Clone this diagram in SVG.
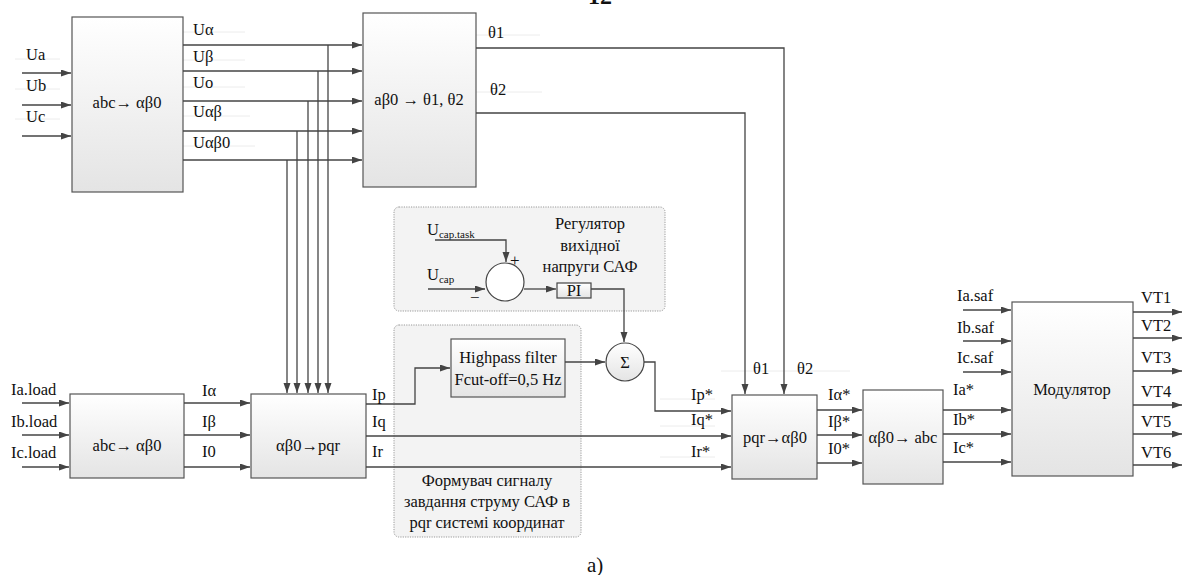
<svg xmlns="http://www.w3.org/2000/svg" width="1184" height="575" viewBox="0 0 1184 575" font-family="'Liberation Serif', 'DejaVu Serif', serif" font-size="16.5">
<defs>
<linearGradient id="g" x1="0" y1="0" x2="0" y2="1">
<stop offset="0" stop-color="#ffffff"/>
<stop offset="1" stop-color="#e4e4e4"/>
</linearGradient>
<marker id="a" markerUnits="userSpaceOnUse" markerWidth="11" markerHeight="8" refX="10" refY="3.5" orient="auto">
<path d="M0,0 L10,3.5 L0,7 z" fill="#444"/>
</marker>
</defs>
<style>
text{font-family:Liberation Serif,serif;font-size:16.5px;fill:#111}
.blk{fill:url(#g);stroke:#555;stroke-width:1.2}
.box{fill:#f3f3f3;stroke:#999;stroke-width:1;stroke-dasharray:1.2 1.2}
.c{fill:none;stroke:#444;stroke-width:1.3}
.ar{marker-end:url(#a)}
.f{stroke:#ececec;stroke-width:1}
.m{text-anchor:middle}
.sb{font-size:11px}
</style>
<rect width="1184" height="575" fill="#fff"/>
<text x="600" y="4" text-anchor="middle" style="font-size:24px;font-weight:bold">12</text>

<g id="reg">
<rect class="box" x="394" y="207" width="271" height="104" rx="5"/>
<text class="m" x="590" y="229">Регулятор</text>
<text class="m" x="590" y="251">вихідної</text>
<text class="m" x="590" y="272">напруги САФ</text>
<text x="427" y="235">U<tspan class="sb" dy="3">cap.task</tspan></text>
<text x="427" y="280">U<tspan class="sb" dy="3">cap</tspan></text>
<circle cx="505" cy="282" r="19" fill="#fff" stroke="#444" stroke-width="1.2"/>
<text x="510" y="266" style="font-size:17px">+</text>
<text x="470" y="303" style="font-size:17px">−</text>
<rect x="557" y="283" width="34" height="15" fill="url(#g)" stroke="#444" stroke-width="1.2"/>
<text class="m" x="574" y="296">PI</text>
</g>

<g id="form">
<rect class="box" x="394" y="325" width="187" height="212" rx="5"/>
<text class="m" x="487" y="486">Формувач сигналу</text>
<text class="m" x="487" y="507">завдання струму САФ в</text>
<text class="m" x="487" y="528">pqr системі координат</text>
</g>

<g id="faint">
<line class="f" x1="15" y1="59" x2="60" y2="59"/>
<line class="f" x1="15" y1="89" x2="60" y2="89"/>
<line class="f" x1="15" y1="119" x2="60" y2="119"/>
<line class="f" x1="165" y1="32" x2="245" y2="32"/>
<line class="f" x1="165" y1="60" x2="245" y2="60"/>
<line class="f" x1="165" y1="87" x2="245" y2="87"/>
<line class="f" x1="170" y1="116" x2="250" y2="116"/>
<line class="f" x1="172" y1="146" x2="255" y2="146"/>
<line class="f" x1="457" y1="35" x2="540" y2="35"/>
<line class="f" x1="460" y1="92" x2="542" y2="92"/>
<line class="f" x1="721" y1="371" x2="850" y2="371"/>
<line class="f" x1="660" y1="399" x2="715" y2="399"/>
<line class="f" x1="660" y1="426" x2="715" y2="426"/>
<line class="f" x1="660" y1="457" x2="715" y2="457"/>
</g>

<g id="b1"><rect class="blk" x="72" y="17" width="111" height="175"/><text class="m" x="127" y="108">abc→ αβ0</text></g>
<g id="b2"><rect class="blk" x="363" y="13" width="113" height="174"/><text class="m" x="419" y="105">aβ0 → θ1, θ2</text></g>
<g id="b3"><rect class="blk" x="70" y="394" width="114" height="84"/><text class="m" x="127" y="451">abc→ αβ0</text></g>
<g id="b4"><rect class="blk" x="251" y="394" width="115" height="84"/><text class="m" x="308" y="451">αβ0→pqr</text></g>
<g id="hp"><rect class="blk" x="451" y="339" width="114" height="58"/><text class="m" x="508" y="363">Highpass filter</text><text class="m" x="508" y="385">Fcut-off=0,5 Hz</text></g>
<g id="sum"><circle cx="625" cy="362" r="19" fill="url(#g)" stroke="#444" stroke-width="1.2"/><text class="m" x="625" y="368">Σ</text></g>
<g id="b5"><rect class="blk" x="732" y="395" width="85" height="84"/><text class="m" x="775" y="443">pqr→αβ0</text></g>
<g id="b6"><rect class="blk" x="863" y="390" width="80" height="94"/><text class="m" x="903" y="443">αβ0→ abc</text></g>
<g id="b7"><rect class="blk" x="1012" y="302" width="121" height="174"/><text class="m" x="1072" y="395">Модулятор</text></g>

<g id="connectors">
<path class="c ar" d="M22,73 H71"/>
<path class="c ar" d="M22,105 H71"/>
<path class="c ar" d="M22,136 H71"/>
<path class="c ar" d="M183,45 H362"/>
<path class="c ar" d="M183,71 H362"/>
<path class="c ar" d="M183,101 H362"/>
<path class="c ar" d="M183,131 H362"/>
<path class="c ar" d="M183,160 H362"/>
<path class="c ar" d="M328,45 V393"/>
<path class="c ar" d="M318,71 V393"/>
<path class="c ar" d="M308,101 V393"/>
<path class="c ar" d="M297,131 V393"/>
<path class="c ar" d="M287,160 V393"/>
<path class="c ar" d="M476,48 H784 V394"/>
<path class="c ar" d="M476,113 H745 V394"/>
<path class="c ar" d="M22,403 H69"/>
<path class="c ar" d="M22,435 H69"/>
<path class="c ar" d="M22,467 H69"/>
<path class="c ar" d="M184,403 H250"/>
<path class="c ar" d="M184,435 H250"/>
<path class="c ar" d="M184,467 H250"/>
<path class="c ar" d="M366,404 H415 V368 H450"/>
<path class="c ar" d="M366,436 H731"/>
<path class="c ar" d="M366,467 H731"/>
<path class="c ar" d="M565,362 H605"/>
<path class="c ar" d="M644,362 H655 V411 H731"/>
<path class="c ar" d="M435,240 H506 V262"/>
<path class="c ar" d="M428,289 H485"/>
<path class="c ar" d="M524,289 H556"/>
<path class="c ar" d="M591,289 H624 V342"/>
<path class="c ar" d="M817,410 H862"/>
<path class="c ar" d="M817,435 H862"/>
<path class="c ar" d="M817,463 H862"/>
<path class="c ar" d="M943,410 H1011"/>
<path class="c ar" d="M943,434 H1011"/>
<path class="c ar" d="M943,462 H1011"/>
<path class="c ar" d="M963,310 H1011"/>
<path class="c ar" d="M963,341 H1011"/>
<path class="c ar" d="M963,372 H1011"/>
<path class="c ar" d="M1133,312 H1182"/>
<path class="c ar" d="M1133,338 H1182"/>
<path class="c ar" d="M1133,371 H1182"/>
<path class="c ar" d="M1133,405 H1182"/>
<path class="c ar" d="M1133,434 H1182"/>
<path class="c ar" d="M1133,465 H1182"/>
</g>

<g id="labels">
<text x="26" y="60">Ua</text>
<text x="26" y="91">Ub</text>
<text x="26" y="122">Uc</text>
<text x="193" y="35">Uα</text>
<text x="193" y="62">Uβ</text>
<text x="193" y="88">Uo</text>
<text x="193" y="117">Uαβ</text>
<text x="193" y="148">Uαβ0</text>
<text x="488" y="38">θ1</text>
<text x="490" y="95">θ2</text>
<text x="11" y="395">Ia.load</text>
<text x="11" y="427">Ib.load</text>
<text x="11" y="458">Ic.load</text>
<text x="202" y="396">Iα</text>
<text x="202" y="427">Iβ</text>
<text x="202" y="457">I0</text>
<text x="372" y="400">Ip</text>
<text x="372" y="427">Iq</text>
<text x="372" y="457">Ir</text>
<text x="691" y="400">Ip*</text>
<text x="691" y="425">Iq*</text>
<text x="691" y="457">Ir*</text>
<text x="753" y="374">θ1</text>
<text x="797" y="374">θ2</text>
<text x="828" y="400">Iα*</text>
<text x="828" y="427">Iβ*</text>
<text x="828" y="454">I0*</text>
<text x="953" y="395">Ia*</text>
<text x="953" y="425">Ib*</text>
<text x="953" y="453">Ic*</text>
<text x="957" y="301">Ia.saf</text>
<text x="957" y="333">Ib.saf</text>
<text x="957" y="363">Ic.saf</text>
<text x="1141" y="303">VT1</text>
<text x="1141" y="331">VT2</text>
<text x="1141" y="363">VT3</text>
<text x="1141" y="397">VT4</text>
<text x="1141" y="427">VT5</text>
<text x="1141" y="458">VT6</text>
<text x="587" y="572" style="font-size:21px">a)</text>
</g>
</svg>
